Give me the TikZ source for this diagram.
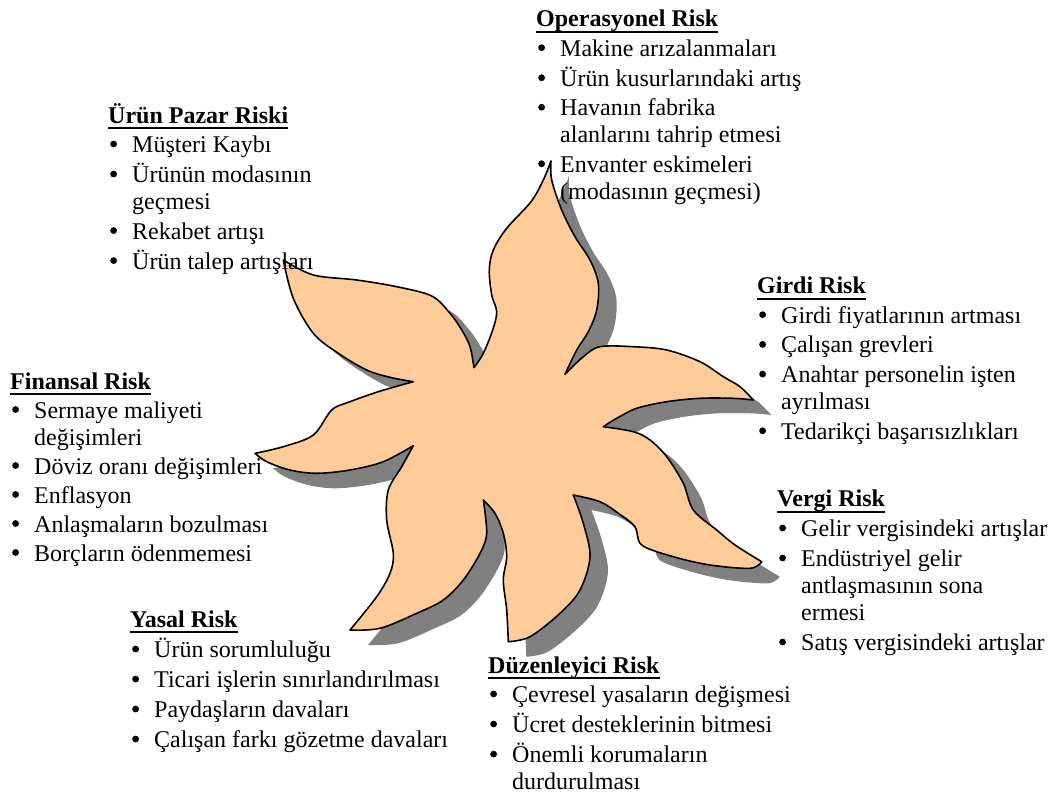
\documentclass[tikz,border=0pt]{standalone}
\usepackage{fontspec}
\setmainfont{Liberation Serif}

\definecolor{petalfill}{HTML}{FFCC99}
\definecolor{petalshadow}{HTML}{808080}

% bold heading with a solid underline at a fixed depth
\newcommand\ulbold[1]{\setbox0\hbox{\bfseries #1}\rlap{\rule[-6pt]{\wd0}{2pt}}\box0}
% round bullet and hanging indent for the list lines
\newcommand\bulitem{\makebox[24pt][l]{\hspace{2pt}\tikz[x=1pt,y=1pt,baseline={(0pt,-8.5pt)}]\fill (3.4pt,0pt) circle (3.4pt);}}
\newcommand\contline{\hspace*{24pt}}

% outline of the eight-armed swirl, arm by arm (tip to notch, notch to tip)
\newcommand\flowerpath{
  plot[smooth,tension=0.55] coordinates {(551,161) (543.3,180) (531,201.7) (506.7,228.3) (493.3,250) (489.3,270) (491.7,295) (496.7,311.7) (492.7,330) (483.3,353.3) (474,367.7)}
  -- plot[smooth,tension=0.55] coordinates {(474,367.7) (470,346.7) (461.7,330) (450,313.3) (431.7,296) (396.7,286.7) (356.7,280) (313.3,275) (283.3,260)}
  -- plot[smooth,tension=0.55] coordinates {(283.3,260) (293.3,298.3) (313.3,333.3) (338.3,353.3) (366.7,370) (390,377.3) (413.3,381.7)}
  -- plot[smooth,tension=0.55] coordinates {(413.3,381.7) (378.3,391.7) (350,401.7) (331.7,410) (313.3,435) (283.3,446.7) (255,453.3)}
  -- plot[smooth,tension=0.55] coordinates {(255,453.3) (266.7,461.7) (290,470) (316.7,473.3) (350,470) (383.3,461.7) (413.3,445.7)}
  -- plot[smooth,tension=0.55] coordinates {(413.3,445.7) (401.7,466.7) (388.3,490) (386.7,520) (393.3,553.3) (390,573.3) (376.7,596.7) (350,630)}
  -- plot[smooth,tension=0.55] coordinates {(350,630) (380,628.3) (416.7,613.3) (443.3,600) (463.3,580) (480,553.3) (486.7,533.3) (483.3,500)}
  -- plot[smooth,tension=0.55] coordinates {(483.3,500) (495,513.3) (503.3,533.3) (506.7,556.7) (503.3,580) (506.7,610) (508.3,641.7)}
  -- plot[smooth,tension=0.55] coordinates {(508.3,641.7) (530,636.7) (560,613.3) (580,590) (590,556.7) (583.3,523.3) (573.3,495)}
  -- plot[smooth,tension=0.55] coordinates {(573.3,495) (600,501.7) (618.3,513.3) (635,526.7) (641.7,545) (673.3,556.7) (710,565) (750,568.3) (761.7,561.7)}
  -- plot[smooth,tension=0.55] coordinates {(761.7,561.7) (735,545) (716.7,530) (693.3,510) (683.3,483.3) (666.7,456.7) (650,440) (633.3,431.7) (603.3,426.7)}
  -- plot[smooth,tension=0.55] coordinates {(603.3,426.7) (616.7,418.3) (636.7,408.3) (666.7,401.7) (700,398.3) (733.3,398.3) (753.3,400)}
  -- plot[smooth,tension=0.55] coordinates {(753.3,400) (740,386.7) (723.3,376.7) (700,361.7) (666.7,350) (633.3,346.7) (600,346.7) (583.3,356.7) (565,374.3)}
  -- plot[smooth,tension=0.55] coordinates {(565,374.3) (576.7,350) (588.3,331.7) (596.7,310) (598.3,283.3) (590,260) (575,236.7) (561.7,210) (551.7,180) (551,161)}
  -- cycle}

\begin{document}
\begin{tikzpicture}[x=1pt,y=-1pt,
  riskblock/.style={anchor=base west, inner sep=0pt, font=\fontsize{24}{27}\selectfont},
  petal/.style={fill=petalfill, draw=black, line width=1.6pt, line join=round},
  petalshade/.style={fill=petalshadow}]
\useasboundingbox (0,0) rectangle (1052,796);

% swirl with its drop shadow
\fill[petalshade, shift={(18,15)}] \flowerpath;
\draw[petal] \flowerpath;

% risk groups
\node[riskblock] (oper) at (536,26.7) {\begin{tabular}[t]{@{}l@{}}
\ulbold{Operasyonel Risk}\\[2.5pt]
\bulitem Makine arızalanmaları\\[2.5pt]
\bulitem Ürün kusurlarındaki artış\\[2.5pt]
\bulitem Havanın fabrika\\
\contline alanlarını tahrip etmesi\\[2.5pt]
\bulitem Envanter eskimeleri\\
\contline (modasının geçmesi)
\end{tabular}};

\node[riskblock] (pazar) at (108,123) {\begin{tabular}[t]{@{}l@{}}
\ulbold{Ürün Pazar Riski}\\[2.5pt]
\bulitem Müşteri Kaybı\\[2.5pt]
\bulitem Ürünün modasının\\
\contline geçmesi\\[2.5pt]
\bulitem Rekabet artışı\\[2.5pt]
\bulitem Ürün talep artışları
\end{tabular}};

\node[riskblock] (finans) at (10,389) {\begin{tabular}[t]{@{}l@{}}
\ulbold{Finansal Risk}\\[2pt]
\bulitem Sermaye maliyeti\\
\contline değişimleri\\[2pt]
\bulitem Döviz oranı değişimleri\\[2pt]
\bulitem Enflasyon\\[2pt]
\bulitem Anlaşmaların bozulması\\[2pt]
\bulitem Borçların ödenmemesi
\end{tabular}};

\node[riskblock] (girdi) at (757,293.5) {\begin{tabular}[t]{@{}l@{}}
\ulbold{Girdi Risk}\\[2.7pt]
\bulitem Girdi fiyatlarının artması\\[2.7pt]
\bulitem Çalışan grevleri\\[2.7pt]
\bulitem Anahtar personelin işten\\
\contline ayrılması\\[2.7pt]
\bulitem Tedarikçi başarısızlıkları
\end{tabular}};

\node[riskblock] (vergi) at (777,506.5) {\begin{tabular}[t]{@{}l@{}}
\ulbold{Vergi Risk}\\[3pt]
\bulitem Gelir vergisindeki artışlar\\[3pt]
\bulitem Endüstriyel gelir\\
\contline antlaşmasının sona\\
\contline ermesi\\[3pt]
\bulitem Satış vergisindeki artışlar
\end{tabular}};

\node[riskblock] (yasal) at (130,627) {\begin{tabular}[t]{@{}l@{}}
\ulbold{Yasal Risk}\\[3pt]
\bulitem Ürün sorumluluğu\\[3pt]
\bulitem Ticari işlerin sınırlandırılması\\[3pt]
\bulitem Paydaşların davaları\\[3pt]
\bulitem Çalışan farkı gözetme davaları
\end{tabular}};

\node[riskblock] (duzen) at (488,673) {\begin{tabular}[t]{@{}l@{}}
\ulbold{Düzenleyici Risk}\\[2.5pt]
\bulitem Çevresel yasaların değişmesi\\[2.5pt]
\bulitem Ücret desteklerinin bitmesi\\[2.5pt]
\bulitem Önemli korumaların\\
\contline durdurulması
\end{tabular}};
\end{tikzpicture}
\end{document}
